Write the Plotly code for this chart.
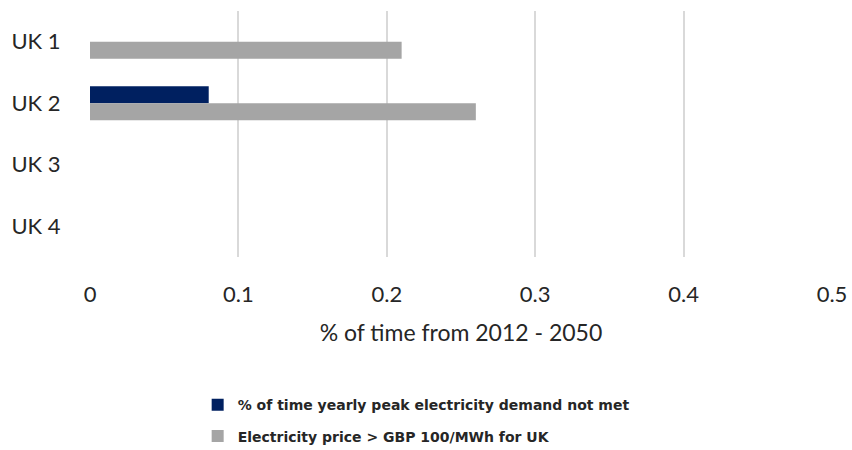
import plotly.graph_objects as go

# Scenario categories and the two series plotted against them
scenarios = ["UK 1", "UK 2", "UK 3", "UK 4"]
demand_not_met = [0.0, 0.08, 0.0, 0.0]
price_above_100 = [0.21, 0.26, 0.0, 0.0]

series_names = [
    "% of time yearly peak electricity demand not met",
    "Electricity price > GBP 100/MWh for UK",
]
x_ticks = [0, 0.1, 0.2, 0.3, 0.4, 0.5]
x_tick_text = ["0", "0.1", "0.2", "0.3", "0.4", "0.5"]

FONT = "Lato, 'Open Sans', sans-serif"
LEGEND_FONT = "'DejaVu Sans', sans-serif"

fig = go.Figure()
fig.add_trace(go.Bar(
    y=scenarios, x=demand_not_met, orientation="h",
    name=series_names[0], legendgroup="a",
    marker=dict(color="#002060", line=dict(width=0)),
))
fig.add_trace(go.Bar(
    y=scenarios, x=price_above_100, orientation="h",
    name=series_names[1], legendgroup="b",
    marker=dict(color="#A5A5A5", line=dict(width=0)),
))

fig.update_layout(
    width=852, height=450,
    margin=dict(l=90, r=20, t=11, b=193, autoexpand=False),
    paper_bgcolor="white", plot_bgcolor="white",
    barmode="group", bargap=0.45, bargroupgap=0,
    font=dict(family=FONT, color="#262626"),
    showlegend=True,
    legend=dict(
        orientation="v", xref="container", yref="container",
        x=0.232, xanchor="left", y=0.135, yanchor="top",
        font=dict(size=14, color="#262626", family=LEGEND_FONT, weight="bold"),
        traceorder="grouped", itemwidth=30, tracegroupgap=10,
    ),
)

fig.update_xaxes(
    range=[0, 0.5], tickvals=x_ticks, ticktext=x_tick_text,
    showgrid=True, gridcolor="#D9D9D9", gridwidth=1.5,
    zeroline=False, showline=False,
    ticks="outside", ticklen=18, tickcolor="rgba(0,0,0,0)",
    tickfont=dict(size=22, family=FONT, color="#262626"),
    title=dict(text="% of time from 2012 - 2050", standoff=18,
               font=dict(size=23, family=FONT, color="#262626")),
)
fig.update_yaxes(
    autorange="reversed", showgrid=False, zeroline=False, showline=False,
    ticks="outside", ticklen=24, tickcolor="rgba(0,0,0,0)",
    tickfont=dict(size=22, family=FONT, color="#262626"),
)

fig.write_html("out.html")
